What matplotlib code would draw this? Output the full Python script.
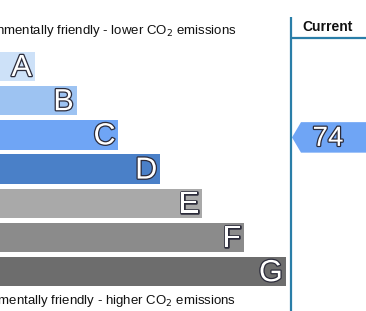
import matplotlib.pyplot as plt
import matplotlib.patheffects as pe
from matplotlib.patches import Polygon

plt.rcParams['font.family'] = ['Liberation Sans', 'DejaVu Sans']

# Rating bands, top (best) to bottom (worst).
bands = ['A', 'B', 'C', 'D', 'E', 'F', 'G']
band_rank = [1, 2, 3, 4, 5, 6, 7]
band_colors = ['#cde1f8', '#9dc3f2', '#6fa5f5', '#4a80c8', '#a9a9a9', '#8b8b8b', '#6d6d6d']
current_value = 74
current_band = 'C'
top_label = 'Very environmentally friendly - lower CO$_2$ emissions'
bottom_label = 'Not environmentally friendly - higher CO$_2$ emissions'
column_title = 'Current'

W, H = 366, 311
fig = plt.figure(figsize=(W / 100, H / 100), dpi=100)
ax = fig.add_axes([0, 0, 1, 1])
ax.set_xlim(0, W)
ax.set_ylim(H, 0)
ax.axis('off')

# Layout in pixel units of the figure.
step_x = 41.8
bar_left = -7
y0, step_y, bar_h = 66.5, 34.2, 29.5
line_x = 291
line_col = '#2a7ea8'

centers = [y0 + i * step_y for i in range(len(bands))]
widths = [step_x * r for r in band_rank]
ax.barh(centers, widths, height=bar_h, left=bar_left, color=band_colors)

outline = [pe.withStroke(linewidth=1.8, foreground='#2b2b3a')]
for c, w, b in zip(centers, widths, bands):
    ax.text(bar_left + w - 3, c + 1.5, b, ha='right', va='center', fontsize=22,
            color='white', path_effects=outline)

ax.text(237, 34, top_label, ha='right', va='baseline', fontsize=9.5, color='#111111')
ax.text(236, 304, bottom_label, ha='right', va='baseline', fontsize=9.5, color='#111111')

# Current rating column.
ax.plot([line_x, line_x], [17, H], color=line_col, lw=1.6, solid_capstyle='butt')
ax.plot([line_x, W], [38, 38], color=line_col, lw=1.6, solid_capstyle='butt')
ax.text(328, 27, column_title, ha='center', va='center', fontsize=10, fontweight='bold',
        color='#111111')

cy = centers[bands.index(current_band)] + 2.5
half = bar_h / 2 + 0.5
arrow = Polygon([(line_x + 1, cy), (line_x + 10, cy - half), (W + 5, cy - half),
                 (W + 5, cy + half), (line_x + 10, cy + half)],
                closed=True, color=band_colors[bands.index(current_band)], lw=0)
ax.add_patch(arrow)
ax.text(328, cy + 1.5, str(current_value), ha='center', va='center', fontsize=20,
        color='white', path_effects=outline)

fig.savefig('out.png', dpi=100)
